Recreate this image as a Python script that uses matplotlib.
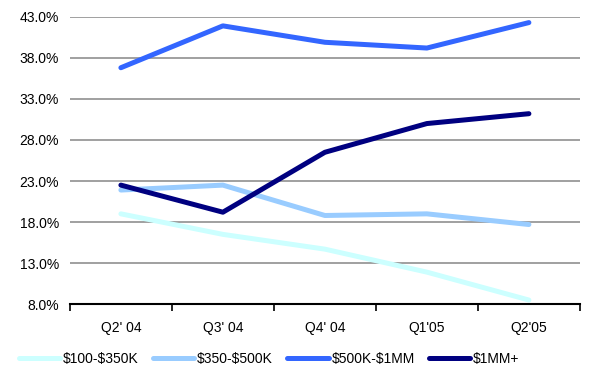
import matplotlib
matplotlib.use("Agg")
import matplotlib.pyplot as plt
import numpy as np

plt.rcParams["font.family"] = ["Liberation Sans", "DejaVu Sans"]

QUARTERS = ["Q2' 04", "Q3' 04", "Q4' 04", "Q1'05", "Q2'05"]
SERIES_NAMES = ["$100-$350K", "$350-$500K", "$500K-$1MM", "$1MM+"]
LOW = [19.0, 16.5, 14.7, 11.9, 8.5]
MID = [21.9, 22.5, 18.8, 19.0, 17.7]
HIGH = [36.8, 41.9, 39.9, 39.2, 42.3]
TOP = [22.5, 19.2, 26.5, 30.0, 31.2]
COLORS = ["#CCFFFF", "#99CCFF", "#3366FF", "#000080"]
Y_TICKS = [8, 13, 18, 23, 28, 33, 38, 43]

fig = plt.figure(figsize=(6.13, 3.66), dpi=100)
ax = fig.add_axes([0.114, 0.169, 0.832, 0.785])

x = np.arange(len(QUARTERS))
for name, vals, color in zip(SERIES_NAMES, [LOW, MID, HIGH, TOP], COLORS):
    ax.plot(x, vals, color=color, linewidth=3.6, solid_capstyle="round",
            label=name.replace("$", r"\$"))

ax.set_xlim(-0.5, len(QUARTERS) - 0.5)
ax.set_ylim(8, 43)
ax.set_yticks(Y_TICKS)
ax.set_yticklabels([f"{v:.1f}%" for v in Y_TICKS], fontsize=10)
ax.tick_params(axis="y", length=0, pad=8)
ax.yaxis.grid(True, color="#999999", linewidth=1.3)
ax.set_axisbelow(True)

ax.set_xticks(np.arange(-0.5, len(QUARTERS)))
ax.set_xticklabels([])
ax.set_xticks(x, minor=True)
ax.set_xticklabels(QUARTERS, minor=True, fontsize=10)
ax.tick_params(axis="x", which="major", direction="out", length=5, width=1.2)
ax.tick_params(axis="x", which="minor", length=0, pad=12)

for side in ["left", "right", "top"]:
    ax.spines[side].set_visible(False)
ax.spines["bottom"].set_linewidth(1.5)

fig.legend(loc="lower left", bbox_to_anchor=(0.01, -0.035), ncol=4, frameon=False,
           fontsize=10, handlelength=3.0, handletextpad=0.2, columnspacing=1.0)

fig.savefig("out.png", dpi=100)
